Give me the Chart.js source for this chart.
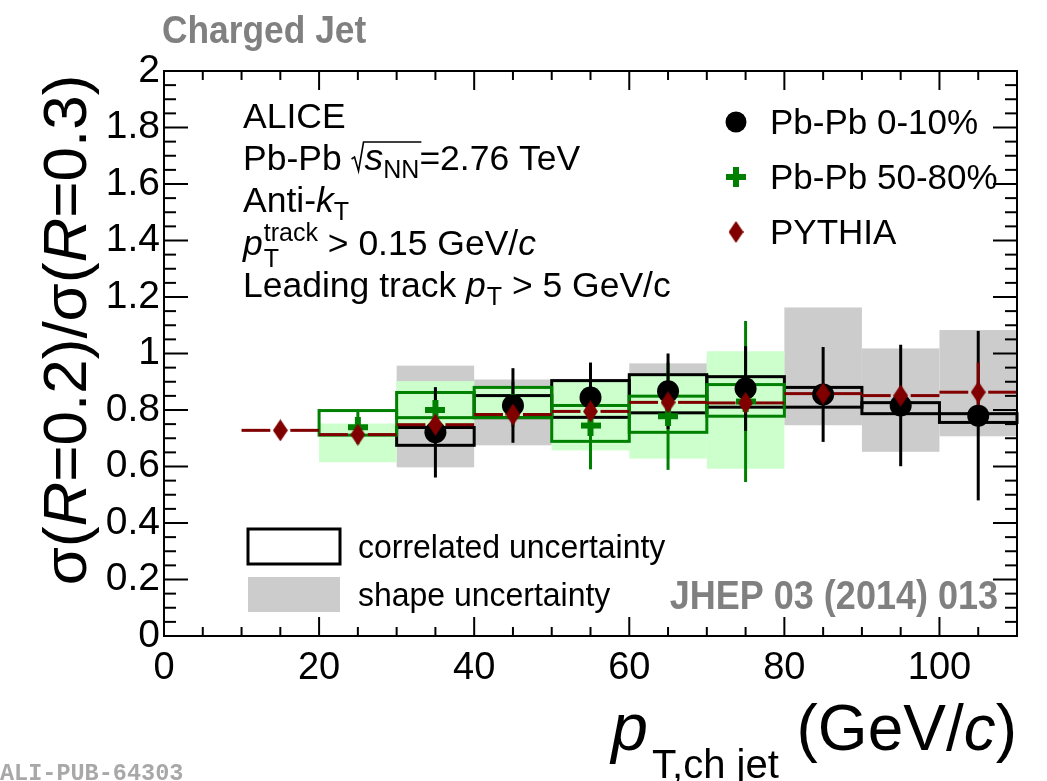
<!DOCTYPE html>
<html>
<head>
<meta charset="utf-8">
<script src="https://cdn.jsdelivr.net/npm/chart.js@4.4.1/dist/chart.umd.min.js"></script>
<style>
html, body { margin: 0; padding: 0; background: #fff; }
canvas { display: block; }
</style>
</head>
<body>
<canvas id="ratio-canvas" width="1047" height="781"></canvas>
<script>
// jet pT bins are 10 GeV/c wide, points sit at the bin centres
const half_bin = 5;

// Pb-Pb 0-10%
const central_x = [35, 45, 55, 65, 75, 85, 95, 105];
const central_y = [0.721, 0.816, 0.844, 0.866, 0.876, 0.855, 0.816, 0.780];
const central_stat = [0.160, 0.132, 0.124, 0.134, 0.150, 0.168, 0.215, 0.300];
const central_corr_lo = [0.675, 0.773, 0.774, 0.790, 0.810, 0.810, 0.787, 0.756];
const central_corr_hi = [0.738, 0.851, 0.904, 0.925, 0.918, 0.880, 0.826, 0.787];
const central_shape_lo = [0.597, 0.675, 0.700, 0.720, 0.750, 0.746, 0.652, 0.707];
const central_shape_hi = [0.957, 0.908, 0.910, 0.965, 0.990, 1.163, 1.018, 1.083];

// Pb-Pb 50-80%
const periph_x = [25, 35, 45, 55, 65, 75];
const periph_y = [0.739, 0.800, 0.820, 0.745, 0.778, 0.830];
const periph_stat = [0.060, 0.070, 0.080, 0.155, 0.190, 0.285];
const periph_corr_lo = [0.711, 0.773, 0.773, 0.689, 0.721, 0.778];
const periph_corr_hi = [0.798, 0.862, 0.880, 0.816, 0.849, 0.890];
const periph_shape_lo = [0.615, 0.745, 0.773, 0.657, 0.628, 0.592];
const periph_shape_hi = [0.752, 0.902, 0.880, 0.900, 0.930, 1.008];

// PYTHIA reference
const pythia_x = [15, 25, 35, 45, 55, 65, 75, 85, 95, 105];
const pythia_y = [0.728, 0.713, 0.748, 0.784, 0.795, 0.827, 0.825, 0.858, 0.851, 0.863];
const pythia_stat = [0.010, 0.010, 0.012, 0.015, 0.015, 0.020, 0.020, 0.030, 0.030, 0.105];

const x_ticks = [0, 20, 40, 60, 80, 100];

const GREEN = '#008000';
const LIGHT_GREEN = '#ccffcc';
const GREY = '#cccccc';
const DARK_RED = '#800000';
const FAMILY = '"Liberation Sans", Arial, Helvetica, sans-serif';

function font(size, italic, bold){
  return (italic ? 'italic ' : '') + (bold ? 'bold ' : '') + size + 'px ' + FAMILY;
}

// marker sprites, used both on the plot and in the legend
function make_cross(){
  const c = document.createElement('canvas');
  c.width = 20; c.height = 20;
  const g = c.getContext('2d');
  g.fillStyle = GREEN;
  g.fillRect(0, 7, 20, 6);
  g.fillRect(7, 0, 6, 20);
  return c;
}
function make_diamond(){
  const c = document.createElement('canvas');
  c.width = 15; c.height = 22;
  const g = c.getContext('2d');
  g.fillStyle = DARK_RED;
  g.beginPath();
  g.moveTo(7.5, 0); g.lineTo(15, 11); g.lineTo(7.5, 22); g.lineTo(0, 11);
  g.closePath();
  g.fill();
  return c;
}
const cross_img = make_cross();
const diamond_img = make_diamond();

// text made of pieces with their own size / slant / offset
// parts: {t, s, i, b, dy, gap, keep} ; keep = do not advance (stacked sub/superscripts)
function run_width(ctx, parts){
  let w = 0;
  parts.forEach(function(p){
    ctx.font = font(p.s, p.i, p.b);
    if(!p.keep) w += ctx.measureText(p.t).width + (p.gap || 0);
  });
  return w;
}
function draw_run(ctx, x, y, parts){
  let cx = x;
  parts.forEach(function(p){
    ctx.font = font(p.s, p.i, p.b);
    ctx.fillText(p.t, cx, y + (p.dy || 0));
    if(!p.keep) cx += ctx.measureText(p.t).width + (p.gap || 0);
  });
  return cx;
}

function line(ctx, x1, y1, x2, y2){
  ctx.beginPath();
  ctx.moveTo(x1, y1);
  ctx.lineTo(x2, y2);
  ctx.stroke();
}

const ratio_decorations = {
  id: 'ratio_decorations',
  beforeDatasetsDraw(chart){
    const ctx = chart.ctx;
    const X = v => chart.scales.x.getPixelForValue(v);
    const Y = v => chart.scales.y.getPixelForValue(v);

    function fill_boxes(xv, lo, hi, color){
      ctx.fillStyle = color;
      xv.forEach(function(x, i){
        const l = X(x - half_bin), r = X(x + half_bin);
        ctx.fillRect(l, Y(hi[i]), r - l, Y(lo[i]) - Y(hi[i]));
      });
    }
    function stroke_boxes(xv, lo, hi, color){
      ctx.strokeStyle = color;
      ctx.lineWidth = 3;
      xv.forEach(function(x, i){
        const l = X(x - half_bin), r = X(x + half_bin);
        ctx.strokeRect(l, Y(hi[i]), r - l, Y(lo[i]) - Y(hi[i]));
      });
    }
    function error_bars(xv, yv, err, color){
      ctx.strokeStyle = color;
      ctx.lineWidth = 3;
      xv.forEach(function(x, i){
        line(ctx, X(x), Y(yv[i] + err[i]), X(x), Y(yv[i] - err[i]));
      });
    }

    ctx.save();
    ctx.lineCap = 'butt';
    fill_boxes(central_x, central_shape_lo, central_shape_hi, GREY);
    fill_boxes(periph_x, periph_shape_lo, periph_shape_hi, LIGHT_GREEN);
    stroke_boxes(central_x, central_corr_lo, central_corr_hi, '#000');
    stroke_boxes(periph_x, periph_corr_lo, periph_corr_hi, GREEN);
    error_bars(periph_x, periph_y, periph_stat, GREEN);
    error_bars(central_x, central_y, central_stat, '#000');

    // PYTHIA: bin-width bar, broken where the marker sits
    ctx.strokeStyle = DARK_RED;
    ctx.lineWidth = 3;
    pythia_x.forEach(function(x, i){
      const py = Y(pythia_y[i]), px = X(x);
      line(ctx, X(x - half_bin), py, px - 10, py);
      line(ctx, px + 10, py, X(x + half_bin), py);
    });
    error_bars(pythia_x, pythia_y, pythia_stat, DARK_RED);
    ctx.restore();
  },
  afterDraw(chart){
    const ctx = chart.ctx;
    const a = chart.chartArea;
    const X = v => chart.scales.x.getPixelForValue(v);
    const Y = v => chart.scales.y.getPixelForValue(v);

    ctx.save();
    // frame with inward ticks on all four sides
    ctx.strokeStyle = '#000';
    ctx.lineWidth = 2;
    ctx.strokeRect(a.left, a.top, a.right - a.left, a.bottom - a.top);
    for(let v = 0; v <= 110; v += 5){
      const len = v % 20 === 0 ? 19 : 9;
      line(ctx, X(v), a.bottom, X(v), a.bottom - len);
      line(ctx, X(v), a.top, X(v), a.top + len);
    }
    for(let k = 0; k <= 40; k++){
      const len = k % 4 === 0 ? 24 : 12;
      const py = Y(k * 0.05);
      line(ctx, a.left, py, a.left + len, py);
      line(ctx, a.right, py, a.right - len, py);
    }

    ctx.fillStyle = '#000';
    ctx.textBaseline = 'alphabetic';
    ctx.textAlign = 'left';

    // y axis title, rotated
    const ytitle = [
      {t: 'σ(', s: 62}, {t: 'R', s: 62, i: true}, {t: '=0.2)/σ(', s: 62},
      {t: 'R', s: 62, i: true}, {t: '=0.3)', s: 62}
    ];
    ctx.save();
    ctx.translate(86, 330);
    ctx.rotate(-Math.PI / 2);
    draw_run(ctx, -run_width(ctx, ytitle) / 2, 0, ytitle);
    ctx.restore();

    // x axis title, right aligned to the frame
    const xtitle = [
      {t: 'p', s: 66, i: true, gap: 4}, {t: 'T,ch jet', s: 40, dy: 28},
      {t: ' (GeV/', s: 64}, {t: 'c', s: 64, i: true}, {t: ')', s: 64}
    ];
    draw_run(ctx, a.right - run_width(ctx, xtitle), 750, xtitle);

    // collision system block
    const lx = 243, fs = 35.5, ss = 25;
    draw_run(ctx, lx, 128, [{t: 'ALICE', s: fs}]);
    let cx = draw_run(ctx, lx, 170, [{t: 'Pb-Pb ', s: fs}]);
    const rad_end = cx + 14 + run_width(ctx, [{t: 's', s: fs + 2, i: true}, {t: 'NN', s: ss}]) + 1;
    ctx.lineWidth = 1.6;
    ctx.beginPath();
    ctx.moveTo(cx, 159); ctx.lineTo(cx + 3, 157); ctx.lineTo(cx + 7, 171);
    ctx.lineTo(cx + 12, 142); ctx.lineTo(rad_end, 142);
    ctx.stroke();
    draw_run(ctx, cx + 13, 170, [
      {t: 's', s: fs + 2, i: true}, {t: 'NN', s: ss, dy: 8}, {t: '=2.76 TeV', s: fs}
    ]);
    draw_run(ctx, lx, 212, [{t: 'Anti-', s: fs}, {t: 'k', s: fs, i: true}, {t: 'T', s: ss, dy: 8}]);
    draw_run(ctx, lx, 255, [
      {t: 'p', s: fs, i: true, gap: 1}, {t: 'T', s: ss, dy: 12, keep: true},
      {t: 'track', s: ss, dy: -14}, {t: ' > 0.15 GeV/', s: fs}, {t: 'c', s: fs, i: true}
    ]);
    draw_run(ctx, lx, 297, [
      {t: 'Leading track ', s: fs}, {t: 'p', s: fs, i: true, gap: 1},
      {t: 'T', s: ss, dy: 8}, {t: ' > 5 GeV/c', s: fs}
    ]);

    // marker legend, top right
    const mx = 736;
    ctx.beginPath();
    ctx.arc(mx, 122, 10.5, 0, Math.PI * 2);
    ctx.fill();
    ctx.drawImage(cross_img, mx - 10, 177 - 10);
    ctx.drawImage(diamond_img, mx - 7.5, 232 - 11);
    draw_run(ctx, 770, 134, [{t: 'Pb-Pb 0-10%', s: 35}]);
    draw_run(ctx, 770, 189, [{t: 'Pb-Pb 50-80%', s: 35}]);
    draw_run(ctx, 770, 244, [{t: 'PYTHIA', s: 35}]);

    // uncertainty legend, bottom left
    ctx.lineWidth = 3;
    ctx.strokeRect(248, 529, 92, 35);
    ctx.fillStyle = GREY;
    ctx.fillRect(248, 577, 92, 35);
    ctx.fillStyle = '#000';
    ctx.save();
    ctx.translate(358, 0);
    ctx.scale(0.94, 1);
    draw_run(ctx, 0, 558, [{t: 'correlated uncertainty', s: 34}]);
    draw_run(ctx, 0, 606, [{t: 'shape uncertainty', s: 34}]);
    ctx.restore();

    // grey condensed labels
    ctx.fillStyle = '#808080';
    ctx.save();
    ctx.translate(162, 43);
    ctx.scale(0.93, 1);
    draw_run(ctx, 0, 0, [{t: 'Charged Jet', s: 38, b: true}]);
    ctx.restore();
    ctx.save();
    const jhep = [{t: 'JHEP 03 (2014) 013', s: 40, b: true}];
    ctx.translate(998, 609);
    ctx.scale(0.9, 1);
    draw_run(ctx, -run_width(ctx, jhep), 0, jhep);
    ctx.restore();

    ctx.fillStyle = '#a8a8a8';
    ctx.font = 'bold 23.5px "Liberation Mono", "DejaVu Sans Mono", monospace';
    ctx.fillText('ALI-PUB-64303', 0, 780);
    ctx.restore();
  }
};

const ctx = document.getElementById('ratio-canvas');
const ratio_chart = new Chart(ctx, {
  type: 'scatter',
  data: {
    datasets: [{
      label: 'Pb-Pb 50-80%',
      data: periph_x.map((x, i) => ({x: x, y: periph_y[i]})),
      pointStyle: cross_img,
      order: 3
    },{
      label: 'Pb-Pb 0-10%',
      data: central_x.map((x, i) => ({x: x, y: central_y[i]})),
      pointStyle: 'circle',
      pointRadius: 11,
      backgroundColor: '#000',
      borderWidth: 0,
      order: 2
    },{
      label: 'PYTHIA',
      data: pythia_x.map((x, i) => ({x: x, y: pythia_y[i]})),
      pointStyle: diamond_img,
      order: 1
    }]
  },
  options: {
    responsive: false,
    animation: false,
    events: [],
    layout: {
      padding: {top: 71, right: 30, left: 0, bottom: 0}
    },
    plugins: {
      legend: {display: false},
      tooltip: {enabled: false}
    },
    scales: {
      x: {
        type: 'linear',
        min: 0,
        max: 110,
        grid: {display: false},
        border: {display: false},
        afterBuildTicks: function(scale){
          scale.ticks = x_ticks.map(v => ({value: v}));
        },
        afterFit: function(scale){
          scale.height = 145;
        },
        ticks: {
          color: '#000',
          font: {family: FAMILY, size: 38},
          padding: 2,
          maxRotation: 0,
          autoSkip: false
        }
      },
      y: {
        type: 'linear',
        min: 0,
        max: 2,
        grid: {display: false},
        border: {display: false},
        afterFit: function(scale){
          scale.width = 164;
        },
        ticks: {
          stepSize: 0.2,
          color: '#000',
          font: {family: FAMILY, size: 39},
          padding: -4,
          callback: v => String(+v.toFixed(1))
        }
      }
    }
  },
  plugins: [ratio_decorations]
});
</script>
</body>
</html>
